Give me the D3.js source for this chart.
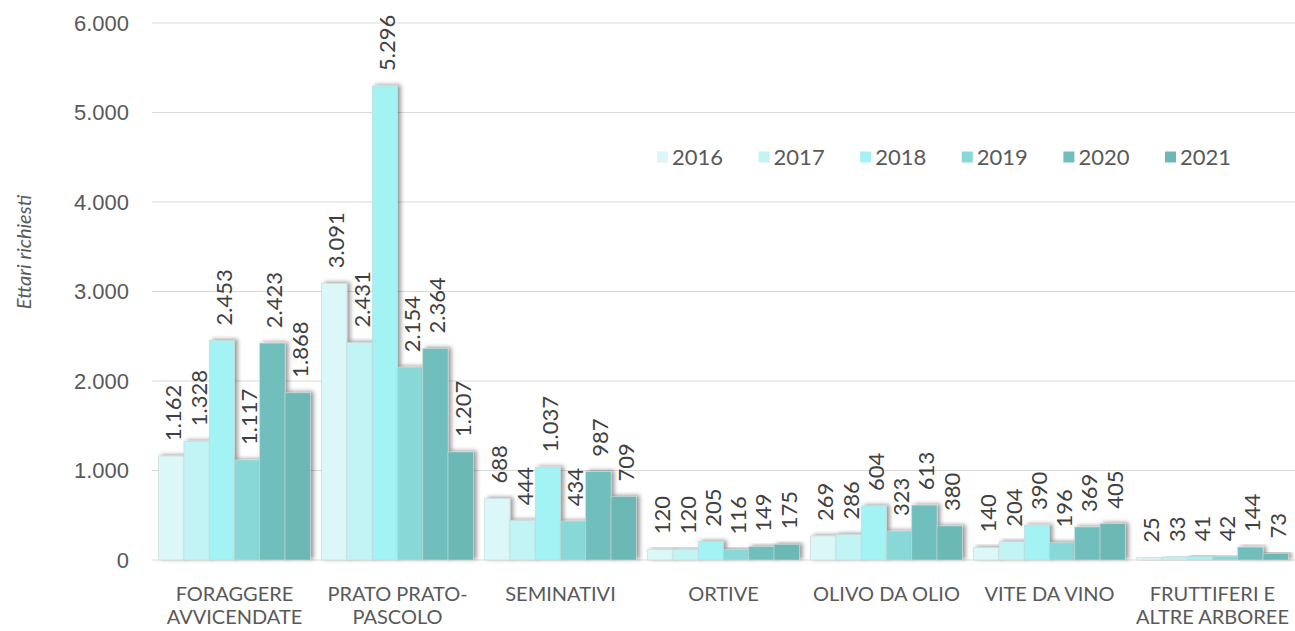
<!DOCTYPE html>
<html>
<head>
<meta charset="utf-8">
<script src="https://cdn.jsdelivr.net/npm/d3@7"></script>
<style>
  html, body { margin: 0; padding: 0; background: #fff; }
  svg { display: block; font-family: Lato, "Open Sans", "Liberation Sans", sans-serif; }
</style>
</head>
<body>
<svg id="chart" width="1295" height="631"></svg>
<script>
// Colture e anni
const categories = [
  ["FORAGGERE", "AVVICENDATE"],
  ["PRATO PRATO-", "PASCOLO"],
  ["SEMINATIVI"],
  ["ORTIVE"],
  ["OLIVO DA OLIO"],
  ["VITE DA VINO"],
  ["FRUTTIFERI E", "ALTRE ARBOREE"]
];
const years = ["2016", "2017", "2018", "2019", "2020", "2021"];

// Ettari richiesti per anno (un array per serie, in ordine di coltura)
const v2016 = [1162, 3091, 688, 120, 269, 140, 25];
const v2017 = [1328, 2431, 444, 120, 286, 204, 33];
const v2018 = [2453, 5296, 1037, 205, 604, 390, 41];
const v2019 = [1117, 2154, 434, 116, 323, 196, 42];
const v2020 = [2423, 2364, 987, 149, 613, 369, 144];
const v2021 = [1868, 1207, 709, 175, 380, 405, 73];
const series = [v2016, v2017, v2018, v2019, v2020, v2021];

const yTicks = [0, 1000, 2000, 3000, 4000, 5000, 6000];
const colors = ["#dcf7f7", "#c2f4f5", "#a3f3f5", "#88d8d8", "#70bfbd", "#6cb8b5"];

const svg = d3.select("#chart");
const margin = { left: 153, right: 1, top: 23, bottom: 71 };
const W = 1295, H = 631;

const fmt = n => d3.format(",")(n).replace(/,/g, ".");

const x0 = d3.scaleBand()
  .domain(d3.range(categories.length))
  .range([margin.left, W - margin.right])
  .paddingInner(0.07)
  .paddingOuter(0.035);
const x1 = d3.scaleBand()
  .domain(d3.range(years.length))
  .range([0, x0.bandwidth()])
  .padding(0);
const y = d3.scaleLinear().domain([0, 6000]).range([H - margin.bottom, margin.top]);

// Ombra delle barre
const defs = svg.append("defs");
const f = defs.append("filter").attr("id", "shadow")
  .attr("x", "-20%").attr("y", "-20%").attr("width", "160%").attr("height", "140%");
f.append("feDropShadow").attr("dx", 3).attr("dy", -1).attr("stdDeviation", 2.2)
  .attr("flood-color", "#000").attr("flood-opacity", 0.4);

// Griglia orizzontale
svg.append("g")
  .attr("class", "grid")
  .selectAll("line").data(yTicks).join("line")
  .attr("x1", 152).attr("x2", W)
  .attr("y1", d => y(d)).attr("y2", d => y(d))
  .attr("stroke", "#d9d9d9").attr("stroke-width", 1.2);

// Etichette asse Y
svg.append("g")
  .attr("transform", `translate(129,0)`)
  .call(d3.axisLeft(y).tickValues(yTicks).tickSize(0).tickPadding(0).tickFormat(fmt))
  .call(g => g.select(".domain").remove())
  .call(g => g.selectAll("text")
    .attr("fill", "#595959").attr("font-size", 22));

// Titolo asse Y
svg.append("text")
  .attr("transform", `translate(31,252) rotate(-90)`)
  .attr("text-anchor", "middle")
  .attr("font-style", "italic")
  .attr("font-size", 20)
  .attr("fill", "#595959")
  .text("Ettari richiesti");

// Barre
const groups = svg.append("g").selectAll("g").data(categories).join("g")
  .attr("transform", (d, i) => `translate(${x0(i)},0)`);

groups.each(function (cat, ci) {
  const g = d3.select(this);
  years.forEach((yr, si) => {
    const val = series[si][ci];
    g.append("rect")
      .attr("x", x1(si))
      .attr("y", y(val))
      .attr("width", x1.bandwidth())
      .attr("height", y(0) - y(val))
      .attr("fill", colors[si])
      .attr("stroke", "#c8d6d6")
      .attr("stroke-width", 0.6)
      .attr("filter", "url(#shadow)");
  });
  years.forEach((yr, si) => {
    const val = series[si][ci];
    const cx = x1(si) + x1.bandwidth() / 2;
    g.append("text")
      .attr("transform", `translate(${cx + 10},${y(val) - 15}) rotate(-90)`)
      .attr("text-anchor", "start")
      .attr("font-size", 22)
      .attr("fill", "#404040")
      .text(fmt(val));
  });
});

// Etichette categorie
svg.append("g").selectAll("text").data(categories).join("text")
  .attr("x", (d, i) => x0(i) + x0.bandwidth() / 2)
  .attr("y", 601)
  .attr("text-anchor", "middle")
  .attr("font-size", 20)
  .attr("fill", "#595959")
  .each(function (lines) {
    d3.select(this).selectAll("tspan").data(lines).join("tspan")
      .attr("x", d3.select(this).attr("x"))
      .attr("dy", (l, k) => k === 0 ? 0 : 23)
      .text(l => l);
  });

// Legenda
const legend = svg.append("g").selectAll("g").data(years).join("g")
  .attr("transform", (d, i) => `translate(${657 + i * 101.6},157)`);
legend.append("rect")
  .attr("x", 0).attr("y", -5.5).attr("width", 11).attr("height", 11)
  .attr("fill", (d, i) => colors[i]);
legend.append("text")
  .attr("x", 15).attr("y", 8)
  .attr("font-size", 22)
  .attr("fill", "#595959")
  .text(d => d);
</script>
</body>
</html>
